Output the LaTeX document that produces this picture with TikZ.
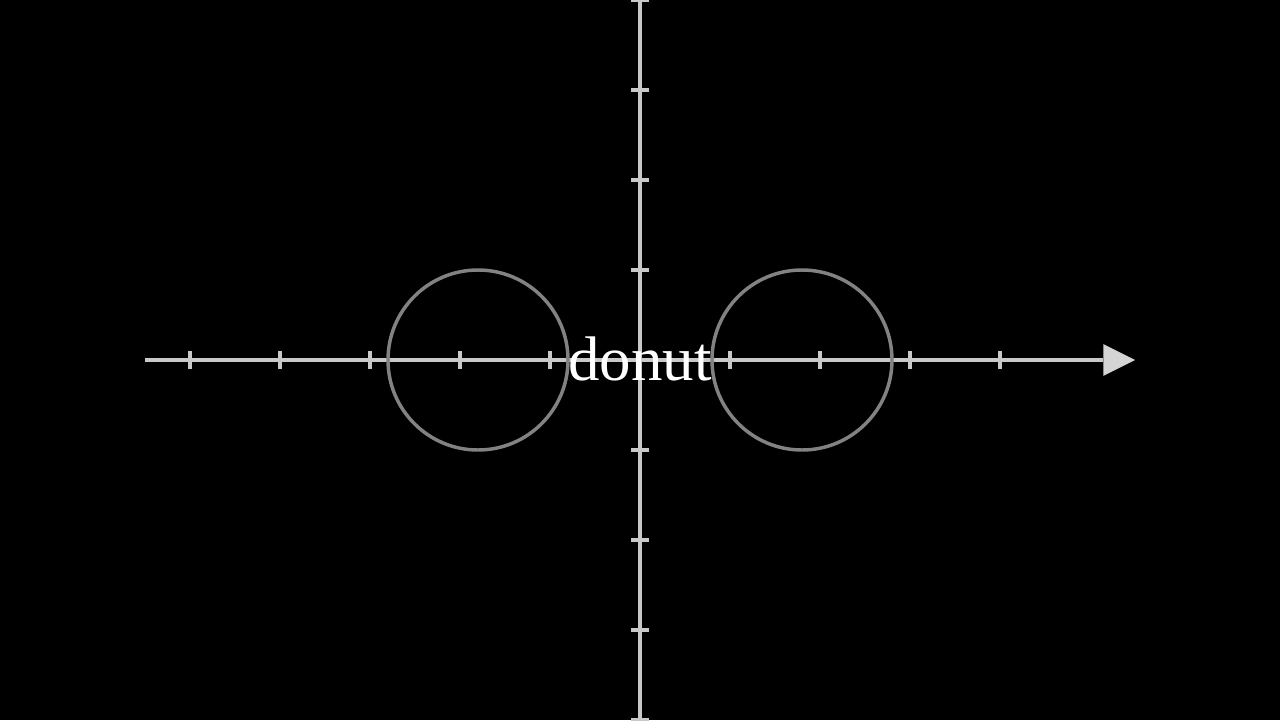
\documentclass[tikz,border=0pt]{standalone}
\usepackage{fontspec}
\setmainfont{Liberation Serif}
\definecolor{axisgray}{RGB}{200,200,200}
\definecolor{tipgray}{RGB}{212,212,212}
\definecolor{ringgray}{RGB}{130,130,130}
\usetikzlibrary{arrows.meta}

\begin{document}
\begin{tikzpicture}
  % Background
  \fill[black] (-7.111,-4) rectangle (7.111,4);
  \useasboundingbox (-7.111,-4) rectangle (7.111,4);

  % Axes
  \draw[axisgray, line width=1.1pt, -{Triangle[length=10pt, width=10pt, fill=tipgray, line width=0pt]}] (-5.5,0) -- (5.5,0);
  \draw[axisgray, line width=1.1pt] (0,-4) -- (0,4);

  % Ticks on x
  \draw[axisgray, line width=1.1pt] (-5,-0.1) -- (-5,0.1) (-4,-0.1) -- (-4,0.1) (-3,-0.1) -- (-3,0.1)
    (-2,-0.1) -- (-2,0.1) (-1,-0.1) -- (-1,0.1) (1,-0.1) -- (1,0.1) (2,-0.1) -- (2,0.1)
    (3,-0.1) -- (3,0.1) (4,-0.1) -- (4,0.1);

  % Ticks on y
  \draw[axisgray, line width=1.1pt] (-0.1,-4) -- (0.1,-4) (-0.1,-3) -- (0.1,-3) (-0.1,-2) -- (0.1,-2)
    (-0.1,-1) -- (0.1,-1) (-0.1,1) -- (0.1,1) (-0.1,2) -- (0.1,2) (-0.1,3) -- (0.1,3)
    (-0.1,4) -- (0.1,4);

  % Rings
  \draw[ringgray, line width=1.1pt] (-1.8,0) circle (1);
  \draw[ringgray, line width=1.1pt] (1.8,0) circle (1);

  % Label
  \node[text=white, font=\fontsize{19.9pt}{24pt}\selectfont, anchor=base, inner sep=0pt] (donut) at (0,-0.23) {donut};
\end{tikzpicture}
\end{document}
